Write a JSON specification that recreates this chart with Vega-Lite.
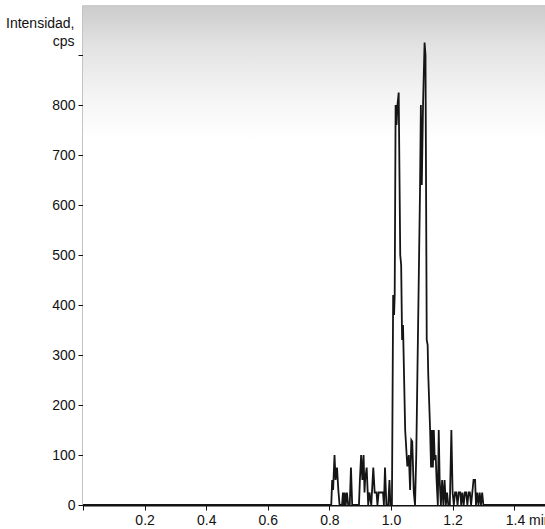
{
  "$schema": "https://vega.github.io/schema/vega-lite/v6.json",
  "width": 462,
  "height": 500,
  "autosize": "none",
  "padding": {"left": 83, "top": 5, "right": 0, "bottom": 24},
  "background": "white",
  "config": {
    "view": {"stroke": null},
    "font": "Liberation Sans, Arial, sans-serif",
    "axis": {
      "labelFont": "Liberation Sans, Arial, sans-serif",
      "titleFont": "Liberation Sans, Arial, sans-serif",
      "labelColor": "#111",
      "titleColor": "#111",
      "domainColor": "#111",
      "tickColor": "#111",
      "grid": false
    }
  },
  "datasets": {
    "trace": [
      {"t": 0, "i": 0}, {"t": 0.802, "i": 0}, {"t": 0.806, "i": 0}, {"t": 0.809, "i": 50},
      {"t": 0.812, "i": 30}, {"t": 0.8166, "i": 100}, {"t": 0.82, "i": 50}, {"t": 0.8247, "i": 75},
      {"t": 0.829, "i": 30}, {"t": 0.833, "i": 0}, {"t": 0.841, "i": 0}, {"t": 0.844, "i": 25},
      {"t": 0.847, "i": 0}, {"t": 0.85, "i": 25}, {"t": 0.853, "i": 0}, {"t": 0.857, "i": 25},
      {"t": 0.861, "i": 0}, {"t": 0.866, "i": 0}, {"t": 0.87, "i": 75}, {"t": 0.874, "i": 0},
      {"t": 0.896, "i": 0}, {"t": 0.899, "i": 50}, {"t": 0.903, "i": 100}, {"t": 0.907, "i": 50},
      {"t": 0.911, "i": 100}, {"t": 0.914, "i": 25}, {"t": 0.916, "i": 50}, {"t": 0.921, "i": 75},
      {"t": 0.926, "i": 0}, {"t": 0.93, "i": 25}, {"t": 0.936, "i": 0}, {"t": 0.9425, "i": 75},
      {"t": 0.947, "i": 25}, {"t": 0.953, "i": 25}, {"t": 0.956, "i": 0}, {"t": 0.96, "i": 25},
      {"t": 0.964, "i": 25}, {"t": 0.969, "i": 25}, {"t": 0.974, "i": 25}, {"t": 0.977, "i": 0},
      {"t": 0.9805, "i": 75}, {"t": 0.985, "i": 0}, {"t": 0.991, "i": 0}, {"t": 0.995, "i": 50},
      {"t": 0.998, "i": 0}, {"t": 1.003, "i": 0}, {"t": 1.007, "i": 420}, {"t": 1.01, "i": 380},
      {"t": 1.012, "i": 420}, {"t": 1.015, "i": 800}, {"t": 1.018, "i": 760}, {"t": 1.021, "i": 800},
      {"t": 1.025, "i": 825}, {"t": 1.03, "i": 500}, {"t": 1.033, "i": 480}, {"t": 1.036, "i": 330},
      {"t": 1.039, "i": 360}, {"t": 1.046, "i": 150}, {"t": 1.053, "i": 77}, {"t": 1.058, "i": 100},
      {"t": 1.062, "i": 30}, {"t": 1.066, "i": 130}, {"t": 1.069, "i": 127}, {"t": 1.074, "i": 25},
      {"t": 1.078, "i": 0}, {"t": 1.082, "i": 100}, {"t": 1.094, "i": 620}, {"t": 1.097, "i": 800},
      {"t": 1.1, "i": 640}, {"t": 1.104, "i": 800}, {"t": 1.109, "i": 925}, {"t": 1.112, "i": 900},
      {"t": 1.116, "i": 330}, {"t": 1.119, "i": 320}, {"t": 1.121, "i": 260}, {"t": 1.127, "i": 150},
      {"t": 1.13, "i": 75}, {"t": 1.133, "i": 150}, {"t": 1.136, "i": 75}, {"t": 1.139, "i": 150},
      {"t": 1.142, "i": 90}, {"t": 1.145, "i": 100}, {"t": 1.148, "i": 50}, {"t": 1.152, "i": 0},
      {"t": 1.155, "i": 150}, {"t": 1.158, "i": 50}, {"t": 1.162, "i": 0}, {"t": 1.166, "i": 50},
      {"t": 1.17, "i": 0}, {"t": 1.174, "i": 50}, {"t": 1.178, "i": 0}, {"t": 1.182, "i": 25},
      {"t": 1.186, "i": 0}, {"t": 1.191, "i": 0}, {"t": 1.196, "i": 150}, {"t": 1.2, "i": 25},
      {"t": 1.204, "i": 0}, {"t": 1.208, "i": 25}, {"t": 1.212, "i": 25}, {"t": 1.216, "i": 0},
      {"t": 1.22, "i": 25}, {"t": 1.225, "i": 25}, {"t": 1.228, "i": 0}, {"t": 1.232, "i": 25},
      {"t": 1.236, "i": 0}, {"t": 1.24, "i": 25}, {"t": 1.244, "i": 25}, {"t": 1.248, "i": 0},
      {"t": 1.252, "i": 25}, {"t": 1.256, "i": 25}, {"t": 1.26, "i": 0}, {"t": 1.264, "i": 25},
      {"t": 1.268, "i": 50}, {"t": 1.273, "i": 50}, {"t": 1.276, "i": 0}, {"t": 1.28, "i": 25},
      {"t": 1.284, "i": 0}, {"t": 1.288, "i": 25}, {"t": 1.292, "i": 0}, {"t": 1.296, "i": 25},
      {"t": 1.3, "i": 0}, {"t": 1.305, "i": 0}, {"t": 1.5, "i": 0}
    ],
    "frame": [{"x0": 0, "x1": 1.5, "y0": 0, "y1": 1000}]
  },
  "layer": [
    {
      "data": {"name": "frame"},
      "mark": {
        "type": "rect",
        "color": {
          "gradient": "linear",
          "x1": 0, "y1": 0, "x2": 0, "y2": 1,
          "stops": [
            {"offset": 0, "color": "#cbcbcb"},
            {"offset": 0.08, "color": "#e2e2e2"},
            {"offset": 0.18, "color": "#f4f4f4"},
            {"offset": 0.27, "color": "#ffffff"},
            {"offset": 1, "color": "#ffffff"}
          ]
        }
      },
      "encoding": {
        "x": {"field": "x0", "type": "quantitative", "scale": {"domain": [0, 1.5], "nice": false, "zero": false}},
        "x2": {"field": "x1"},
        "y": {"field": "y0", "type": "quantitative", "scale": {"domain": [0, 1000], "nice": false}},
        "y2": {"field": "y1"}
      }
    },
    {
      "data": {"name": "trace"},
      "mark": {"type": "line", "color": "#151515", "strokeWidth": 1.8, "clip": true},
      "encoding": {
        "x": {
          "field": "t", "type": "quantitative",
          "scale": {"domain": [0, 1.5], "nice": false, "zero": false},
          "axis": {
            "title": null,
            "values": [0, 0.1, 0.2, 0.3, 0.4, 0.5, 0.6, 0.7, 0.8, 0.9, 1.0, 1.1, 1.2, 1.3, 1.4],
            "labelExpr": "datum.value < 0.05 ? '' : (round(datum.value * 10) % 2 == 0 ? (datum.value > 1.35 ? '1.4 min' : format(datum.value, '.1f')) : '')",
            "labelAlign": {"condition": {"test": "datum.value > 1.35", "value": "left"}, "value": "center"},
            "labelOffset": {"condition": {"test": "datum.value > 1.35", "value": -9}, "value": 0},
            "labelFontSize": 14,
            "labelPadding": 3,
            "labelOverlap": false,
            "labelBound": false,
            "labelFlush": false,
            "tickSize": 5,
            "tickWidth": 1,
            "domainWidth": 2
          }
        },
        "y": {
          "field": "i", "type": "quantitative",
          "scale": {"domain": [0, 1000], "nice": false},
          "axis": {
            "title": ["Intensidad,", "cps"],
            "titleAngle": 0,
            "titleAlign": "right",
            "titleBaseline": "alphabetic",
            "titleX": -9,
            "titleY": 22,
            "titleFontSize": 14,
            "titleFontWeight": "normal",
            "titleLineHeight": 18,
            "values": [0, 50, 100, 150, 200, 250, 300, 350, 400, 450, 500, 550, 600, 650, 700, 750, 800, 850, 900],
            "labelExpr": "datum.value % 100 == 0 && datum.value <= 800 ? format(datum.value, 'd') : ''",
            "labelFontSize": 14,
            "labelPadding": 3,
            "labelOverlap": false,
            "labelBound": false,
            "tickSize": 5,
            "tickWidth": 1,
            "domainWidth": 1.5
          }
        }
      }
    }
  ]
}
